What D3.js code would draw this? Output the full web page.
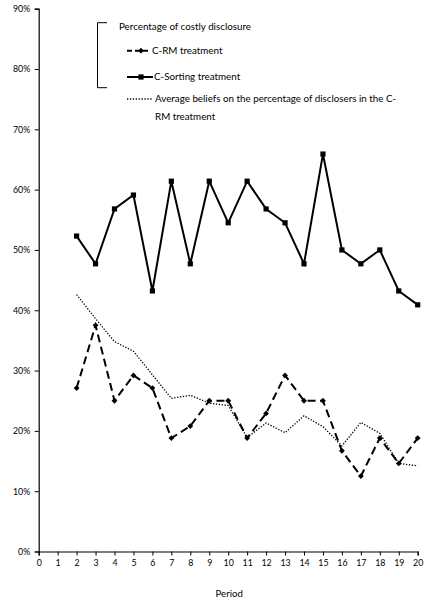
<!DOCTYPE html>
<html><head><meta charset="utf-8">
<script src="https://cdn.jsdelivr.net/npm/d3@7/dist/d3.min.js"></script>
<style>
html,body{margin:0;padding:0;background:#fff;}
svg text{font-family:Lato, "Liberation Sans", sans-serif;fill:#000;}
</style></head>
<body>
<svg id="chart" width="431" height="604"></svg>
<script>
const periods = [2,3,4,5,6,7,8,9,10,11,12,13,14,15,16,17,18,19,20];
const crm = [27.1,37.5,25.0,29.2,27.1,18.8,20.8,25.0,25.0,18.8,22.9,29.2,25.0,25.0,16.7,12.5,18.8,14.6,18.8];
const sorting = [52.3,47.7,56.8,59.1,43.2,61.4,47.7,61.4,54.5,61.4,56.8,54.5,47.7,65.9,50.0,47.7,50.0,43.2,40.9];
const beliefs = [42.6,38.6,34.8,33.2,29.3,25.4,25.9,24.6,24.2,18.9,21.3,19.7,22.5,20.7,17.5,21.4,19.6,14.6,14.2];
const xTicks = d3.range(0,21);
const yTicks = [0,10,20,30,40,50,60,70,80,90];
const legendTitle = "Percentage of costly disclosure";
const legendLabels = ["C-RM treatment","C-Sorting treatment",["Average beliefs on the percentage of disclosers in the C-","RM treatment"]];
const xTitle = "Period";

const svg = d3.select("#chart");
const x = d3.scaleLinear().domain([0,20]).range([38.7,417.7]);
const y = d3.scaleLinear().domain([0,90]).range([551.5,8.7]);
const LF = "9.8px";

// axes
const yAxis = svg.append("g").attr("transform",`translate(${x(0)},0)`)
  .call(d3.axisLeft(y).tickValues(yTicks).tickSize(4).tickFormat(d=>d+"%"));
const xAxis = svg.append("g").attr("transform",`translate(0,${y(0)})`)
  .call(d3.axisBottom(x).tickValues(xTicks).tickSize(4).tickFormat(d3.format("d")));
[yAxis,xAxis].forEach(g=>{
  g.select(".domain").attr("stroke","#000").attr("stroke-width",1.2);
  g.selectAll(".tick line").attr("stroke","#000");
  g.selectAll("text").style("font-size","8.8px").attr("fill","#000");
});
yAxis.selectAll("text").attr("x",-8.5);
xAxis.selectAll("text").attr("y",8);

svg.append("text").attr("x",(x(0)+x(20))/2+1).attr("y",597).attr("text-anchor","middle")
  .style("font-size","9.6px").text(xTitle);

const line = d3.line().x((d,i)=>x(periods[i])).y(d=>y(d));
const diamond = d3.symbol(d3.symbolSquare,17);

// beliefs dotted
svg.append("path").datum(beliefs).attr("d",line).attr("fill","none")
  .attr("stroke","#000").attr("stroke-width",1.3).attr("stroke-dasharray","1.3,1.6");
// crm dashed
svg.append("path").datum(crm).attr("d",line).attr("fill","none")
  .attr("stroke","#000").attr("stroke-width",2).attr("stroke-dasharray","8,4.5");
svg.append("g").selectAll("path").data(crm).join("path")
  .attr("transform",(d,i)=>`translate(${x(periods[i])},${y(d)}) rotate(45)`)
  .attr("d",diamond).attr("fill","#000");
// sorting solid
svg.append("path").datum(sorting).attr("d",line).attr("fill","none")
  .attr("stroke","#000").attr("stroke-width",2);
svg.append("g").selectAll("rect").data(sorting).join("rect")
  .attr("x",(d,i)=>x(periods[i])-2.6).attr("y",d=>y(d)-2.6)
  .attr("width",5.2).attr("height",5.2).attr("fill","#000");

// legend
const lg = svg.append("g");
lg.append("path").attr("d","M107,22.7H97.5V87.7H107").attr("fill","none").attr("stroke","#000").attr("stroke-width",1);
lg.append("text").attr("x",119).attr("y",30).style("font-size",LF).text(legendTitle);
// item 1
lg.append("line").attr("x1",127).attr("x2",149).attr("y1",50.7).attr("y2",50.7)
  .attr("stroke","#000").attr("stroke-width",2).attr("stroke-dasharray","5,3");
lg.append("path").attr("transform","translate(141,50.7) rotate(45)").attr("d",diamond).attr("fill","#000");
lg.append("text").attr("x",152).attr("y",54).style("font-size",LF).text(legendLabels[0]);
// item 2
lg.append("line").attr("x1",127).attr("x2",153).attr("y1",77).attr("y2",77)
  .attr("stroke","#000").attr("stroke-width",2);
lg.append("rect").attr("x",138.4).attr("y",74.4).attr("width",5.2).attr("height",5.2).attr("fill","#000");
lg.append("text").attr("x",154).attr("y",80.3).style("font-size",LF).text(legendLabels[1]);
// item 3
lg.append("line").attr("x1",127).attr("x2",153).attr("y1",99).attr("y2",99)
  .attr("stroke","#000").attr("stroke-width",1.3).attr("stroke-dasharray","1.3,1.6");
const t3 = lg.append("text").attr("x",155).attr("y",102.3).style("font-size",LF);
t3.append("tspan").attr("x",155).text(legendLabels[2][0]);
t3.append("tspan").attr("x",155).attr("dy",17.3).text(legendLabels[2][1]);
</script>
</body></html>
